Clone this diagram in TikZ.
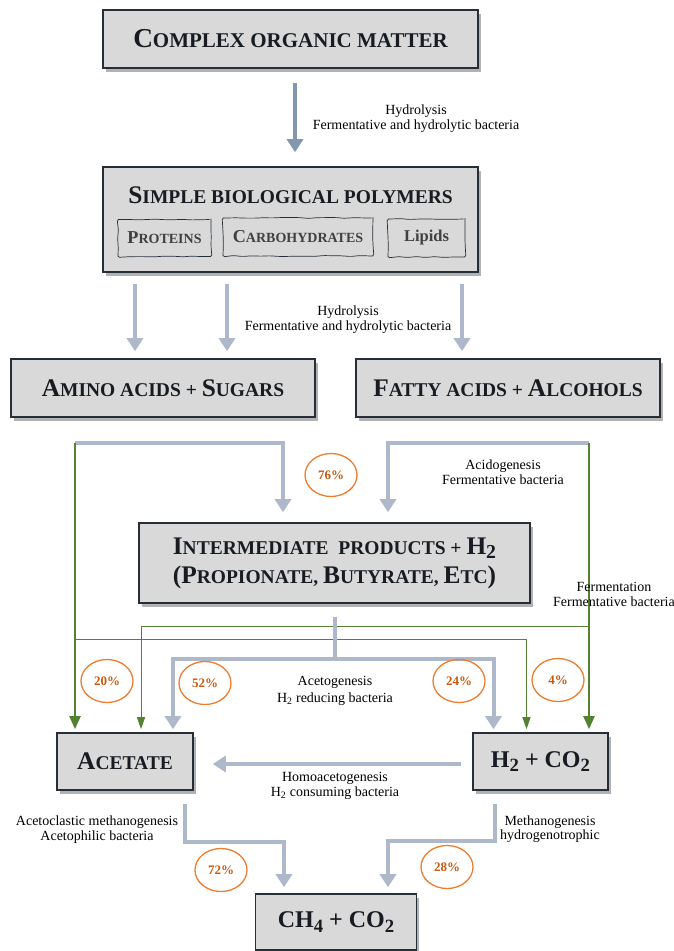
\documentclass[tikz,border=0pt]{standalone}
\usepackage{fontspec}
\setmainfont{Liberation Serif}
\usetikzlibrary{shapes,arrows.meta,shadows,decorations.pathmorphing,calc}
\definecolor{boxgrey}{RGB}{217,217,217}
\definecolor{boxline}{RGB}{38,47,56}
\definecolor{flowgrey}{RGB}{173,185,202}
\definecolor{flowdark}{RGB}{132,151,176}
\definecolor{leafgreen}{RGB}{84,130,53}
\definecolor{pctorange}{RGB}{237,125,49}
\definecolor{pcttext}{RGB}{197,90,17}
\makeatletter
\newcommand\Cp[1]{{\fontsize{\the\dimexpr\f@size pt*13/10\relax}{0pt}\selectfont #1}}
\makeatother
\newcommand\lowsub[1]{\raisebox{-0.18em}{\scalebox{0.78}{#1}}}
\tikzstyle{block} = [rectangle, draw=boxline, line width=1.6pt, fill=boxgrey, inner sep=0pt,
    align=center, text=boxline!60!black,
    drop shadow={shadow xshift=2.5pt, shadow yshift=-3.5pt, fill=black, opacity=0.3}]
\tikzstyle{subblock} = [rectangle, draw=boxline, line width=0.7pt, inner sep=0pt, text=black!75,
    decorate, decoration={random steps, segment length=9pt, amplitude=0.5pt}, rounded corners=1.5pt]
\tikzstyle{flow} = [draw=flowgrey, line width=4pt, -{Triangle[width=16pt,length=13pt]}]
\tikzstyle{flowline} = [draw=flowgrey, line width=4pt]
\tikzstyle{fermthick} = [draw=leafgreen, line width=2pt, -{Triangle[width=11pt,length=13pt]}]
\tikzstyle{fermthin} = [draw=leafgreen, line width=1pt, -{Triangle[width=8pt,length=12pt]}]
\tikzstyle{note} = [align=center, inner sep=0pt, font=\fontsize{14}{14.5}\selectfont]
\tikzstyle{pct} = [ellipse, draw=pctorange, line width=1.3pt, minimum width=52pt, minimum height=43pt,
    inner sep=0pt, text=pcttext, font=\bfseries\fontsize{13}{14}\selectfont]

\begin{document}
\begin{tikzpicture}[x=1pt,y=-1pt]
  \useasboundingbox (0,0) rectangle (674,951);
  \node[block, minimum width=375pt, minimum height=58pt, font=\bfseries\fontsize{21}{24}\selectfont] (com) at (290.5,39) {\Cp{C}OMPLEX ORGANIC MATTER};
  \node[block, minimum width=375pt, minimum height=105pt] (poly) at (290.5,219.5) {};
  \node[text=boxline!60!black, font=\bfseries\fontsize{19.5}{22}\selectfont] (polyt) at (290.5,195) {\Cp{S}IMPLE BIOLOGICAL POLYMERS};
  \node[subblock, minimum width=93pt, minimum height=37pt, font=\bfseries\fontsize{14}{16}\selectfont] (prot) at (164.5,238) {\Cp{P}ROTEINS};
  \node[subblock, minimum width=150pt, minimum height=38pt, font=\bfseries\fontsize{14}{16}\selectfont] (carb) at (298,237) {\Cp{C}ARBOHYDRATES};
  \node[subblock, minimum width=77pt, minimum height=38pt, font=\bfseries\fontsize{16.5}{18}\selectfont] (lip) at (426.5,238) {Lipids};
  \node[block, minimum width=304pt, minimum height=58pt, font=\bfseries\fontsize{19.5}{22}\selectfont] (amino) at (163,388) {\Cp{A}MINO ACIDS + \Cp{S}UGARS};
  \node[block, minimum width=304pt, minimum height=58pt, font=\bfseries\fontsize{19.5}{22}\selectfont] (fatty) at (508,388) {\Cp{F}ATTY ACIDS + \Cp{A}LCOHOLS};
  \node[block, minimum width=391pt, minimum height=80pt, font=\bfseries\fontsize{19.5}{29}\selectfont] (inter) at (334.5,563) {\Cp{I}NTERMEDIATE\ \ PRODUCTS + \Cp{H\lowsub{2}}\\ \Cp{(P}ROPIONATE, \Cp{B}UTYRATE, \Cp{E}TC\Cp{)}};
  \node[block, minimum width=136pt, minimum height=57pt, font=\bfseries\fontsize{19.5}{22}\selectfont] (acet) at (125,761.5) {\Cp{A}CETATE};
  \node[block, minimum width=135pt, minimum height=57pt, font=\bfseries\fontsize{24}{26}\selectfont] (hco) at (540.5,761.5) {H\lowsub{2} + CO\lowsub{2}};
  \node[block, minimum width=161pt, minimum height=56pt, font=\bfseries\fontsize{24}{26}\selectfont] (ch4) at (336,922) {CH\lowsub{4} + CO\lowsub{2}};

  \draw[flow, draw=flowdark] ($(com.south)+(4.5,14)$) -- ($(poly.north)+(4.5,-14)$);
  \node[note] (hyd1) at (416,118.5) {Hydrolysis\\Fermentative and hydrolytic bacteria};
  \draw[flow] ($(poly.south)+(-155.5,11)$) -- ($(amino.north)+(-28,-7)$);
  \draw[flow] ($(poly.south)+(-63.5,11)$) -- ($(amino.north)+(64,-7)$);
  \draw[flow] ($(poly.south)+(171.5,11)$) -- ($(fatty.north)+(-46,-7)$);
  \node[note] (hyd2) at (348,319.5) {Hydrolysis\\Fermentative and hydrolytic bacteria};

  \coordinate (jl) at (75,443);
  \coordinate (jr) at (589,443);
  \draw[flow] (jl) -| ($(inter.north)+(-51.5,-10)$);
  \draw[flow] (jr) -| ($(inter.north)+(53.5,-10)$);
  \node[pct] (p76) at (331,475) {76\%};
  \node[note] (acido) at (503,472) {Acidogenesis\\Fermentative bacteria};

  \draw[fermthick] (jl) -- ($(acet.north)+(-50,-3)$);
  \draw[fermthick] (jr) -- ($(hco.north)+(48.5,-3)$);
  \coordinate (f1) at (589,626);
  \coordinate (f2) at (75,639);
  \draw[fermthin] (f1) -| ($(acet.north)+(16,-3)$);
  \draw[fermthin] (f2) -| ($(hco.north)+(-14,-3)$);
  \node[note] (fermn) at (614,594.5) {Fermentation\\Fermentative bacteria};

  \coordinate (sp) at (334.5,659);
  \draw[flowline] ($(inter.south)+(0,13)$) -- (sp);
  \draw[flow] (sp) -| ($(acet.north)+(48,-3)$);
  \draw[flow] (sp) -| ($(hco.north)+(-47,-3)$);
  \node[pct] (p20) at (107,681) {20\%};
  \node[pct] (p52) at (205,683) {52\%};
  \node[pct] (p24) at (459,681) {24\%};
  \node[pct] (p4) at (558,680) {4\%};
  \node[note, font=\fontsize{14}{17}\selectfont] (acetog) at (335,690.5) {Acetogenesis\\H\textsubscript{2} reducing bacteria};

  \draw[flow] ($(hco.west)+(-11,2.5)$) -- ($(acet.east)+(19,2.5)$);
  \node[note] (homo) at (335,786) {Homoacetogenesis\\H\textsubscript{2} consuming bacteria};

  \coordinate (b1) at (185,842);
  \coordinate (b2) at (495,841);
  \draw[flow] ($(acet.south)+(60,13)$) -- (b1) -| ($(ch4.north)+(-52,-6)$);
  \draw[flow] ($(hco.south)+(-45.5,13)$) -- (b2) -| ($(ch4.north)+(52,-6)$);
  \node[note] (aclast) at (97,829.5) {Acetoclastic methanogenesis\\Acetophilic bacteria};
  \node[note] (hydro) at (550,829) {Methanogenesis\\hydrogenotrophic};
  \node[pct] (p72) at (221,870) {72\%};
  \node[pct] (p28) at (447,867) {28\%};
\end{tikzpicture}
\end{document}
